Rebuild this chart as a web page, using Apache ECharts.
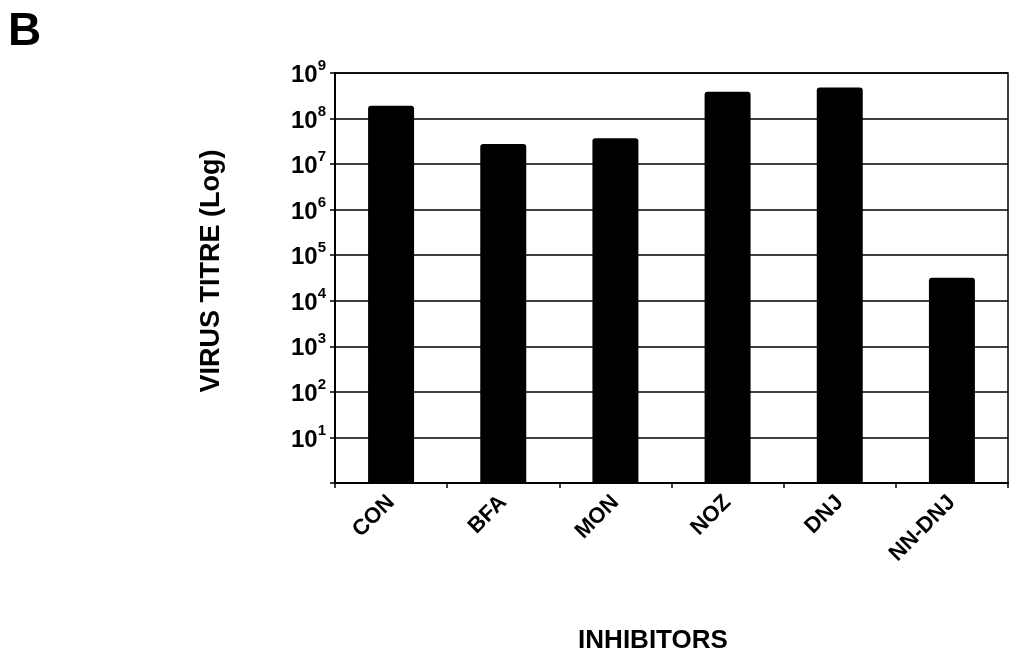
<!DOCTYPE html>
<html>
<head>
<meta charset="utf-8">
<script src="https://cdn.jsdelivr.net/npm/echarts@6/dist/echarts.min.js"></script>
<style>
html,body{margin:0;padding:0;background:#fff;}
#chart{width:1013px;height:656px;}
</style>
</head>
<body>
<div id="chart"></div>
<script>
const categories = ['CON', 'BFA', 'MON', 'NOZ', 'DNJ', 'NN-DNJ'];
const titreValues = [1.9e8, 2.75e7, 3.7e7, 3.9e8, 4.8e8, 3.2e4];
const yMin = 1;
const yMax = 1e9;
const yAxisTitle = 'VIRUS TITRE (Log)';
const xAxisTitle = 'INHIBITORS';
const panelLabel = 'B';

const FONT = '"Liberation Sans", Arial, sans-serif';
const chart = echarts.init(document.getElementById('chart'));
chart.setOption({
  backgroundColor: '#fff',
  animation: false,
  title: [
    { text: panelLabel, left: 3, top: 4, textStyle: { fontFamily: FONT, fontWeight: 'bold', fontSize: 46, color: '#000' } },
    { text: xAxisTitle, left: 648, top: 623, textAlign: 'center', textStyle: { fontFamily: FONT, fontWeight: 'bold', fontSize: 26, color: '#000' } }
  ],
  grid: { left: 335, right: 5, top: 73, bottom: 173, show: true, borderColor: '#000', borderWidth: 1.5, backgroundColor: 'transparent' },
  xAxis: {
    type: 'category',
    data: categories,
    axisLine: { lineStyle: { color: '#000', width: 2 } },
    axisTick: { show: true, length: 5, lineStyle: { color: '#000', width: 1.5 } },
    axisLabel: { rotate: 45, margin: 16, fontFamily: FONT, fontWeight: 'bold', fontSize: 22, color: '#000' }
  },
  yAxis: {
    type: 'log',
    logBase: 10,
    min: yMin,
    max: yMax,
    name: yAxisTitle,
    nameLocation: 'middle',
    nameGap: 110,
    nameTextStyle: { fontFamily: FONT, fontWeight: 'bold', fontSize: 27, color: '#000', padding: [0, 0, 0, 14] },
    axisLine: { show: true, lineStyle: { color: '#000', width: 2 } },
    axisTick: { show: true, length: 5, lineStyle: { color: '#000', width: 1.5 } },
    splitLine: { show: true, lineStyle: { color: '#000', width: 1.5 } },
    axisLabel: {
      margin: 9,
      formatter: function (v) {
        const e = Math.round(Math.log10(v));
        if (e <= 0) return '';
        return '{b|10}{s|' + e + '}';
      },
      rich: {
        b: { fontFamily: FONT, fontWeight: 'bold', fontSize: 24, color: '#000', verticalAlign: 'bottom' },
        s: { fontFamily: FONT, fontWeight: 'bold', fontSize: 15, color: '#000', verticalAlign: 'top', padding: [0, 0, 14, 0] }
      }
    }
  },
  series: [{
    type: 'bar',
    data: titreValues,
    barWidth: '41%',
    itemStyle: { color: '#000', borderRadius: [3, 3, 0, 0] }
  }]
});
</script>
</body>
</html>
